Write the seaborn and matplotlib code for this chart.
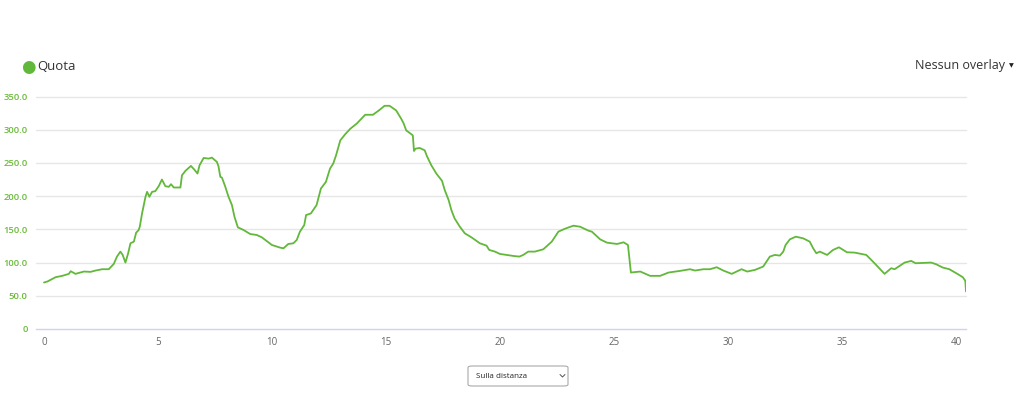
import numpy as np
import pandas as pd
import matplotlib
matplotlib.use("Agg")
import matplotlib.pyplot as plt
from matplotlib.patches import FancyBboxPatch
from matplotlib.lines import Line2D
import seaborn as sns

# ---- data (distance in km, elevation in m) ----
distance_km = [
    0.0, 0.15, 0.51, 0.8, 1.09, 1.17, 1.38, 1.75, 2.04, 2.26, 2.55, 2.84, 3.06, 3.2, 3.35, 3.45,
    3.57, 3.69, 3.79, 3.94, 4.04, 4.15, 4.2, 4.3, 4.45, 4.52, 4.62, 4.74, 4.88, 5.03, 5.17, 5.32,
    5.47, 5.57, 5.69, 5.98, 6.05, 6.2, 6.44, 6.59, 6.73, 6.82, 7.0, 7.22, 7.36, 7.58, 7.65, 7.73,
    7.8, 7.94, 8.09, 8.24, 8.35, 8.5, 8.75, 9.04, 9.33, 9.55, 9.99, 10.35, 10.5, 10.71, 10.93,
    11.08, 11.22, 11.41, 11.49, 11.7, 11.95, 12.14, 12.36, 12.54, 12.68, 12.8, 12.99, 13.2,
    13.43, 13.72, 14.08, 14.42, 14.7, 14.93, 15.15, 15.44, 15.66, 15.76, 15.88, 16.17, 16.22,
    16.29, 16.47, 16.69, 16.79, 16.98, 17.2, 17.45, 17.57, 17.74, 17.86, 18.0, 18.23, 18.45,
    18.74, 19.11, 19.4, 19.52, 19.77, 19.99, 20.28, 20.57, 20.84, 21.01, 21.23, 21.52, 21.89,
    22.26, 22.55, 22.84, 23.21, 23.5, 23.87, 24.02, 24.38, 24.68, 25.12, 25.41, 25.6, 25.73,
    26.14, 26.57, 27.01, 27.38, 27.89, 28.32, 28.54, 28.91, 29.2, 29.49, 29.78, 30.15, 30.58,
    30.83, 31.17, 31.53, 31.82, 32.04, 32.26, 32.41, 32.51, 32.7, 32.96, 33.28, 33.57, 33.72,
    33.86, 34.01, 34.33, 34.59, 34.85, 35.2, 35.54, 36.05, 36.41, 36.85, 37.14, 37.29, 37.73,
    38.02, 38.21, 38.89, 39.11, 39.4, 39.69, 39.99, 40.28, 40.39, 40.42,
]
elevation_m = [
    70, 71.5, 78, 80, 83, 87, 83, 86.5, 86, 88, 90, 90, 98, 109, 116.5, 111.5,
    100, 114, 129, 131.5, 145, 149, 154, 174, 199, 206.5, 199, 206.5, 207.5, 215, 225, 215,
    214, 218, 213, 213, 231.5, 238, 245.5, 240, 234, 246.5, 257.5, 256.5, 258, 251.5, 245, 229,
    228, 215, 199, 186.5, 169, 153, 149, 143, 141.5, 138, 126.5, 122.5, 121.5, 128, 129,
    134, 146.5, 156.5, 171.5, 174, 186.5, 211.5, 221.5, 241.5, 249, 261, 284, 293,
    301.5, 309.5, 322.5, 322.5, 329.5, 336, 336, 329, 316.5, 310, 299, 291.5, 268,
    271.5, 272.5, 269, 260, 246.5, 234, 223, 209, 194, 179, 166.5, 154, 144,
    138, 129, 125.5, 119, 116.5, 113, 111.5, 110, 109, 111.5, 116.5, 116.5, 120,
    131.5, 146.5, 151, 155.5, 154, 148, 146.5, 135, 130, 128, 130.5, 126.5, 85,
    86.5, 80, 80, 85, 87.5, 90, 88, 90, 90, 93, 88, 83, 90,
    86.5, 89, 94, 109, 111.5, 110.5, 116.5, 126.5, 135, 139, 136.5, 131.5, 121.5,
    114, 116.5, 111.5, 119, 123, 115.5, 115, 111.5, 99, 83, 91.5, 90, 100,
    102.5, 99, 100, 97.5, 92.5, 90, 84, 78, 72.5, 56.5,
]
y_ticks = [0, 50, 100, 150, 200, 250, 300, 350]
y_tick_labels = ["0", "50.0", "100.0", "150.0", "200.0", "250.0", "300.0", "350.0"]
x_ticks = [0, 5, 10, 15, 20, 25, 30, 35, 40]
series_name = "Quota"

# ---- style ----
sns.set_theme(style="white")
plt.rcParams["font.family"] = ["Open Sans", "DejaVu Sans"]

GREEN = "#62b83a"
LABEL_GREEN = "#6cbb3c"
GRID = "#e6e6e6"

fig = plt.figure(figsize=(10.24, 4.04), dpi=100)
ax = fig.add_axes([36 / 1024, 1 - 329 / 404, (966 - 36) / 1024, (329 - 96.5) / 404])

df = pd.DataFrame({"km": distance_km, "quota": elevation_m})
sns.lineplot(data=df, x="km", y="quota", ax=ax, color=GREEN, linewidth=1.3,
             sort=False, estimator=None, zorder=3)

ax.set_xlim(-0.35, 40.42)
ax.set_ylim(0, 350)
ax.set_yticks(y_ticks)
ax.set_yticklabels(y_tick_labels)
ax.set_xticks(x_ticks)
ax.set_xticklabels([str(t) for t in x_ticks])
ax.set_xlabel("")
ax.set_ylabel("")

for y in y_ticks[1:]:
    ax.axhline(y, color=GRID, linewidth=1, zorder=1, clip_on=False)
for s in ["top", "right", "left"]:
    ax.spines[s].set_visible(False)
ax.spines["bottom"].set_color("#ccd6eb")
ax.spines["bottom"].set_linewidth(1)
ax.tick_params(axis="y", length=0, pad=6, labelsize=6.8, labelcolor=LABEL_GREEN)
ax.tick_params(axis="x", length=0, pad=6, labelsize=7, labelcolor="#666666")
for lbl in ax.get_yticklabels():
    lbl.set_fontweight("semibold")

# legend-like header
fig.text(28 / 1024, 1 - 67 / 404, "\u25CF", color=GREEN, fontsize=12,
         ha="center", va="center", family=["DejaVu Sans"])
fig.text(37 / 1024, 1 - 67 / 404, series_name, color="#333333", fontsize=9.5,
         ha="left", va="center")
fig.text(1005 / 1024, 1 - 65 / 404, "Nessun overlay", color="#333333", fontsize=9,
         ha="right", va="center")
fig.text(1011 / 1024, 1 - 66 / 404, "\u25BC", color="#222222", fontsize=4.5,
         ha="center", va="center", family=["DejaVu Sans"])

# dropdown box
box = FancyBboxPatch((468 / 1024, 1 - 386 / 404), (568 - 468) / 1024, (386 - 366) / 404,
                     boxstyle="round,pad=0,rounding_size=0.004", transform=fig.transFigure,
                     facecolor="white", edgecolor="#aaaaaa", linewidth=0.8)
fig.patches.append(box)
fig.text(476 / 1024, 1 - 376 / 404, "Sulla distanza", color="#222222", fontsize=5.8,
         ha="left", va="center")
chev_x = np.array([560, 562.5, 565]) / 1024
chev_y = 1 - np.array([374.5, 377, 374.5]) / 404
fig.add_artist(Line2D(chev_x, chev_y, transform=fig.transFigure, color="#555555", linewidth=0.7))

fig.savefig("out.png", dpi=100, facecolor="white")
